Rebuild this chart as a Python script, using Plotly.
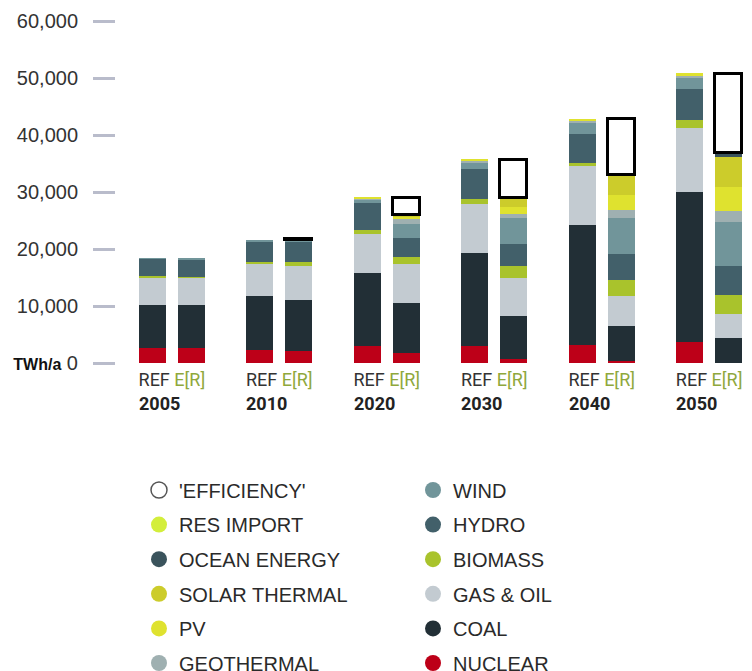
import plotly.graph_objects as go

years = ["2005", "2010", "2020", "2030", "2040", "2050"]

# values in TWh/a, bottom to top of each stack
nuclear_ref = [2700, 2350, 3040, 2930, 3100, 3680]
nuclear_er = [2700, 2100, 1830, 770, 350, 0]
coal_ref = [7490, 9350, 12750, 16440, 21180, 26320]
coal_er = [7490, 9020, 8770, 7420, 6090, 4460]
gas_oil_ref = [4790, 5840, 6840, 8600, 10280, 11230]
gas_oil_er = [4790, 5840, 6720, 6670, 5260, 4210]
biomass_ref = [300, 100, 630, 750, 600, 1350]
biomass_er = [150, 820, 1290, 2110, 2810, 3210]
hydro_ref = [2980, 3760, 4800, 5390, 5090, 5560]
hydro_er = [3080, 3510, 3400, 3980, 4560, 5090]
wind_ref = [50, 100, 560, 980, 1860, 1860]
wind_er = [50, 300, 2460, 4490, 6440, 7770]
geothermal_ref = [0, 0, 200, 470, 470, 350]
geothermal_er = [0, 0, 880, 770, 1400, 1880]
pv_ref = [0, 0, 300, 300, 300, 530]
pv_er = [0, 0, 300, 1160, 2510, 4260]
solar_thermal_ref = [0, 0, 0, 0, 0, 0]
solar_thermal_er = [0, 0, 280, 1580, 3510, 5260]
ocean_ref = [0, 0, 0, 0, 0, 0]
ocean_er = [0, 0, 0, 0, 0, 770]
res_import_ref = [0, 0, 0, 0, 0, 0]
res_import_er = [0, 0, 0, 0, 0, 0]
efficiency_er = [None, 150, 2950, 6650, 9860, 13780]

y_tick_vals = [0, 10000, 20000, 30000, 40000, 50000, 60000]
y_tick_text = ["<b><span style='font-size:16px;color:#111'>TWh/a</span></b> 0",
               "10,000", "20,000", "30,000", "40,000", "50,000", "60,000"]

series = [
    ("NUCLEAR", nuclear_ref, nuclear_er, "#bd0018"),
    ("COAL", coal_ref, coal_er, "#222f36"),
    ("GAS & OIL", gas_oil_ref, gas_oil_er, "#c3cbd1"),
    ("BIOMASS", biomass_ref, biomass_er, "#a9c32c"),
    ("HYDRO", hydro_ref, hydro_er, "#42606a"),
    ("WIND", wind_ref, wind_er, "#71959a"),
    ("GEOTHERMAL", geothermal_ref, geothermal_er, "#9fb0b1"),
    ("PV", pv_ref, pv_er, "#dfe22f"),
    ("SOLAR THERMAL", solar_thermal_ref, solar_thermal_er, "#cccc2b"),
    ("OCEAN ENERGY", ocean_ref, ocean_er, "#3a535c"),
    ("RES IMPORT", res_import_ref, res_import_er, "#d3ee3c"),
]

# page body has an 8px margin, so the figure is 744x663 and sits at (8, 8)
W, H = 744, 663
ML, MR, MT, MB = 108, 4, 2, 308
px_per_unit_x = 107.46
x0_px = 163.85
px_per_twh = 0.0057
off = 0.18
bw = 0.251

xmin = (ML - x0_px) / px_per_unit_x
xmax = xmin + (W - ML - MR) / px_per_unit_x
ymax = (H - MT - MB) / px_per_twh

groups = list(range(len(years)))
xs = [g - off for g in groups] + [g + off for g in groups]

fig = go.Figure()
for name, ref, er, color in series:
    fig.add_trace(go.Bar(
        x=xs, y=list(ref) + list(er), width=bw, name=name,
        marker=dict(color=color, line=dict(width=0)),
        showlegend=False,
    ))
fig.add_trace(go.Bar(
    x=xs, y=[None] * len(years) + list(efficiency_er), width=bw,
    name="'EFFICIENCY'",
    marker=dict(color="white", line=dict(color="black", width=3)),
    showlegend=False,
))

colors = {n: c for n, _, _, c in series}
left_col = ["'EFFICIENCY'", "RES IMPORT", "OCEAN ENERGY", "SOLAR THERMAL", "PV", "GEOTHERMAL"]
right_col = ["WIND", "HYDRO", "BIOMASS", "GAS & OIL", "COAL", "NUCLEAR"]
for legend_id, names in (("legend", left_col), ("legend2", right_col)):
    for i, n in enumerate(names):
        if n == "'EFFICIENCY'":
            mk = dict(size=16, color="white", line=dict(color="#555", width=1.5))
        else:
            mk = dict(size=16, color=colors[n], line=dict(width=0))
        fig.add_trace(go.Scatter(
            x=[None], y=[None], mode="markers", name=n, marker=mk,
            legend=legend_id, legendgroup=legend_id + str(i), showlegend=True,
        ))

for g, yr in zip(groups, years):
    fig.add_annotation(
        x=g - off - bw / 2, y=0, xref="x", yref="y", text="<b>" + yr + "</b>",
        showarrow=False, xanchor="left", yanchor="top", yshift=-28, xshift=-2,
        font=dict(family="Roboto", size=18, color="#222"),
    )

legend_common = dict(
    xref="container", yref="container", xanchor="left", yanchor="top",
    orientation="v", traceorder="grouped", tracegroupgap=5.6,
    font=dict(family="Liberation Sans", size=20, color="#2a2a2a"),
    bgcolor="rgba(0,0,0,0)", borderwidth=0, itemsizing="trace",
)

fig.update_layout(
    width=W, height=H,
    margin=dict(l=ML, r=MR, t=MT, b=MB, autoexpand=False),
    barmode="stack", bargap=0,
    paper_bgcolor="white", plot_bgcolor="white",
    font=dict(family="Roboto", color="#333"),
    xaxis=dict(
        range=[xmin, xmax], tickvals=groups,
        ticktext=["REF <span style='color:#8fa83c'>E[R]</span>"] * len(years),
        ticks="", showline=False, showgrid=False, zeroline=False,
        ticklabelstandoff=4,
        tickfont=dict(family="Roboto", size=18, color="#333"),
        automargin=False,
    ),
    yaxis=dict(
        range=[0, ymax], tickvals=y_tick_vals, ticktext=y_tick_text,
        ticks="outside", ticklen=22, tickwidth=3, tickcolor="#b9bccb",
        showline=False, showgrid=False, zeroline=False,
        ticklabelstandoff=11, automargin=False,
        tickfont=dict(family="Liberation Sans", size=20, color="#333"),
    ),
    legend=dict(x=131 / W, y=1 - 462.5 / H, **legend_common),
    legend2=dict(x=405 / W, y=1 - 462.5 / H, **legend_common),
    showlegend=True,
)

fig.write_html("out.html")
